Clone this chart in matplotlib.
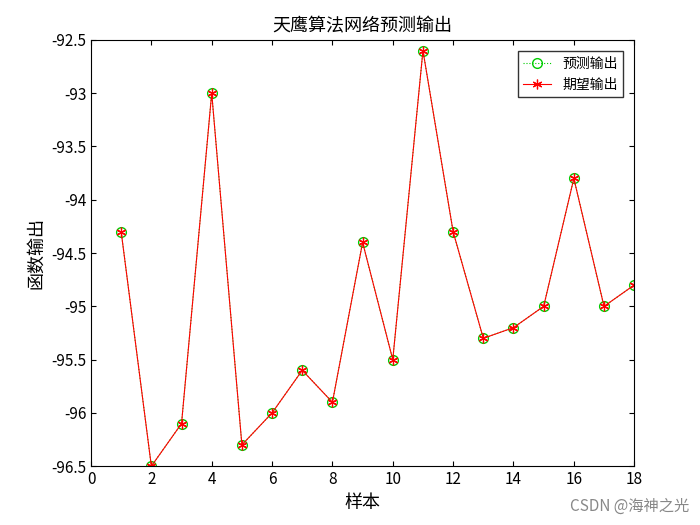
import numpy as np
import matplotlib
matplotlib.use("Agg")
import matplotlib.pyplot as plt

plt.rcParams['font.family'] = ['Noto Sans CJK SC', 'DejaVu Sans']

samples = np.arange(1, 19)
expected = [-94.3, -96.5, -96.1, -93.0, -96.3, -96.0, -95.6, -95.9, -94.4,
            -95.5, -92.6, -94.3, -95.3, -95.2, -95.0, -93.8, -95.0, -94.8]
predicted = list(expected)

fig = plt.figure(figsize=(7, 5.25), dpi=100)
ax = fig.add_axes([0.13, 0.112, 0.776, 0.812])
ax.plot(samples, predicted, color="#00cc00", linestyle=":", linewidth=0.8,
        marker="o", markersize=7, markerfacecolor="none", label="预测输出")
ax.plot(samples, expected, color="red", linewidth=0.8, marker=(6, 2, 0),
        markersize=7, markeredgewidth=0.9, label="期望输出")
ax.set_xlim(0, 18)
ax.set_ylim(-96.5, -92.5)
ax.set_xticks(range(0, 19, 2))
yt = np.arange(-96.5, -92.4, 0.5)
ax.set_yticks(yt)
ax.set_yticklabels([f"{v:g}" for v in yt])
ax.tick_params(direction="in", top=True, right=True, labelsize=11)
ax.set_title("天鹰算法网络预测输出", fontsize=13)
ax.set_xlabel("样本", fontsize=13)
ax.set_ylabel("函数输出", fontsize=13)
ax.legend(loc="upper right", fontsize=10, fancybox=False, edgecolor="black",
          borderaxespad=0.8)
fig.text(0.985, 0.02, "CSDN @海神之光", ha="right", va="bottom",
         fontsize=11, color="#888888")
fig.savefig("out.png")
